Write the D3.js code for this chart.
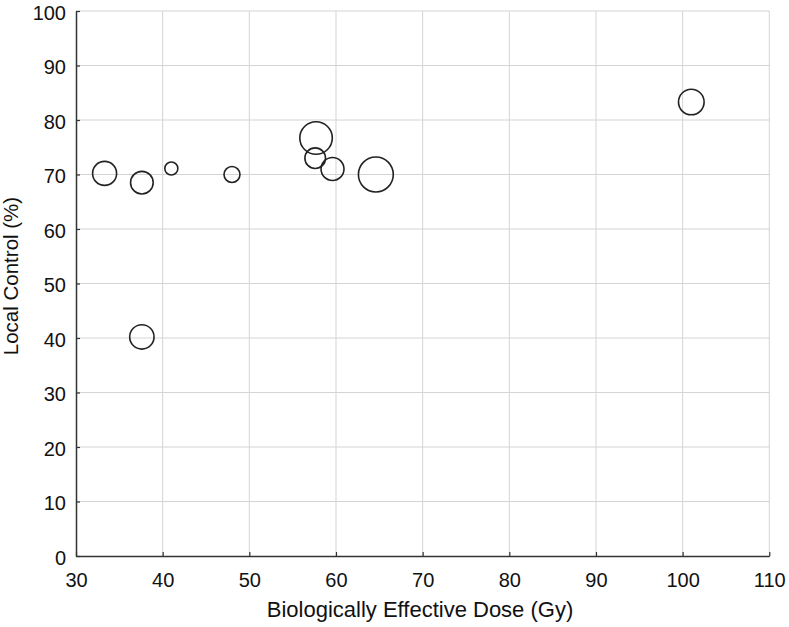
<!DOCTYPE html>
<html><head><meta charset="utf-8">
<script src="https://cdn.jsdelivr.net/npm/d3@7"></script>
<style>body{margin:0;background:#fff}svg{display:block}text{font-family:"Liberation Sans",Arial,sans-serif;fill:#111}</style>
</head><body><svg id="c" width="789" height="627"></svg>
<script>
const bed = [33.3, 37.6, 41.0, 48.0, 57.7, 57.6, 59.6, 64.6, 37.6, 101.0];
const localControl = [70.2, 68.5, 71.1, 70.0, 76.7, 73.0, 71.0, 70.0, 40.2, 83.3];
const weight = [36, 32, 10.6, 16, 66, 26.5, 33, 76, 37, 41];
const xTicks = [30, 40, 50, 60, 70, 80, 90, 100, 110];
const yTicks = [0, 10, 20, 30, 40, 50, 60, 70, 80, 90, 100];

const svg = d3.select("#c");
const x = d3.scaleLinear().domain([30, 110]).range([76, 769.3]);
const y = d3.scaleLinear().domain([0, 100]).range([556, 11]);
const r = d3.scaleSqrt().domain([0, 100]).range([0, 20]);

// grid
svg.append("g").selectAll("line").data(xTicks.slice(1)).join("line")
  .attr("x1", d => x(d)).attr("x2", d => x(d)).attr("y1", y(0)).attr("y2", y(100))
  .attr("stroke", "#d4d4d4").attr("stroke-width", 1);
svg.append("g").selectAll("line").data(yTicks.slice(1)).join("line")
  .attr("x1", x(30)).attr("x2", x(110)).attr("y1", d => y(d)).attr("y2", d => y(d))
  .attr("stroke", "#d4d4d4").attr("stroke-width", 1);

// axes
const xAxis = d3.axisBottom(x).tickValues(xTicks).tickSizeInner(-4).tickSizeOuter(0).tickPadding(17);
const yAxis = d3.axisLeft(y).tickValues(yTicks).tickSizeInner(-4).tickSizeOuter(0).tickPadding(10);
const gx = svg.append("g").attr("transform", `translate(0,${y(0)})`).call(xAxis);
const gy = svg.append("g").attr("transform", `translate(${x(30)},0)`).call(yAxis);
[gx, gy].forEach(g => {
  g.select(".domain").attr("stroke", "#333").attr("stroke-width", 1.5);
  g.selectAll(".tick line").attr("stroke", "#333").attr("stroke-width", 1.2);
  g.selectAll(".tick text").attr("font-size", 20).attr("fill", "#111")
    .style("font-family", '"Liberation Sans",Arial,sans-serif');
});
gy.selectAll(".tick text").attr("dy", "0.4em");

// bubbles
const data = bed.map((d, i) => ({x: d, y: localControl[i], w: weight[i]}));
svg.append("g").selectAll("circle").data(data).join("circle")
  .attr("cx", d => x(d.x)).attr("cy", d => y(d.y)).attr("r", d => r(d.w))
  .attr("fill", "none").attr("stroke", "#222").attr("stroke-width", 1.6);

// titles
svg.append("text").attr("x", 420).attr("y", 617)
  .attr("text-anchor", "middle").attr("font-size", 22).text("Biologically Effective Dose (Gy)");
svg.append("text").attr("transform", `translate(18,276) rotate(-90)`)
  .attr("text-anchor", "middle").attr("font-size", 20.5).text("Local Control (%)");
</script></body></html>
